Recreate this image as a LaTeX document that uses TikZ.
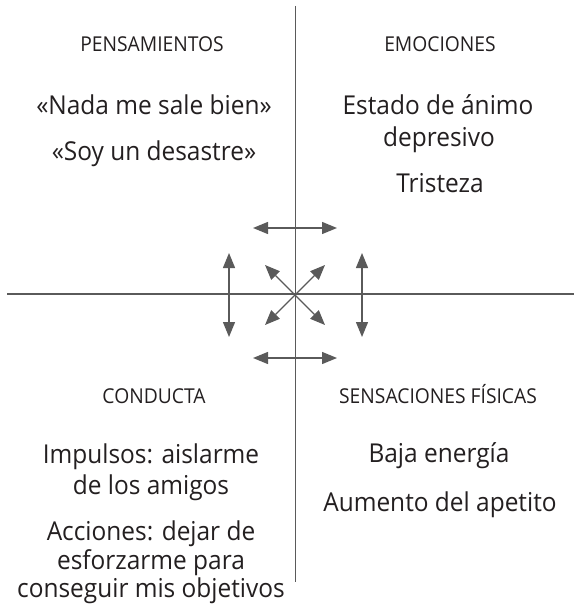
\documentclass[tikz,border=0pt]{standalone}
\usepackage{fontspec}
\setmainfont{Open Sans}[FakeStretch=0.94]
\usetikzlibrary{arrows.meta}
\definecolor{axisgray}{HTML}{5A5A5A}
\definecolor{txt}{HTML}{231F20}
\tikzset{
  axis/.style={draw=axisgray, line width=1.2pt},
  dbl/.style={draw=axisgray, line width=1.3pt, {Triangle[length=15pt,width=12pt]}-{Triangle[length=15pt,width=12pt]}},
  head/.style={anchor=base, text=txt, font=\fontsize{20.5}{24}\selectfont},
  body/.style={anchor=base, text=txt, font=\fontsize{26}{31}\selectfont},
}
\begin{document}
\begin{tikzpicture}[x=1pt,y=-1pt]
\useasboundingbox (0,0) rectangle (574,609);
% axes
\coordinate (vt) at (295.5,6);
\coordinate (vb) at (295.5,582);
\coordinate (hl) at (7,294);
\coordinate (hr) at (574,294);
\draw[axis] (vt) -- (vb);
\draw[axis] (hl) -- (hr);
% arrows
\coordinate (t1) at (253,228); \coordinate (t2) at (337,228);
\coordinate (b1) at (253,358); \coordinate (b2) at (337,358);
\coordinate (l1) at (229,253); \coordinate (l2) at (229,337);
\coordinate (r1) at (362,253); \coordinate (r2) at (362,337);
\coordinate (d1) at (265,265); \coordinate (d2) at (325,325);
\coordinate (d3) at (325,265); \coordinate (d4) at (265,325);
\draw[dbl] (t1) -- (t2);
\draw[dbl] (b1) -- (b2);
\draw[dbl] (l1) -- (l2);
\draw[dbl] (r1) -- (r2);
\draw[dbl] (d1) -- (d2);
\draw[dbl] (d3) -- (d4);
% texts
\node[head] (pens) at (152,52) {PENSAMIENTOS};
\node[head] (emoc) at (440,52) {EMOCIONES};
\node[body] (p1) at (154,115) {«Nada me sale bien»};
\node[body] (p2) at (154,161) {«Soy un desastre»};
\node[body] (e1) at (438,115) {Estado de ánimo};
\node[body] (e2) at (439,147) {depresivo};
\node[body] (e3) at (440,193) {Tristeza};
\node[head] (cond) at (154,403) {CONDUCTA};
\node[head] (sens) at (438,403) {SENSACIONES FÍSICAS};
\node[body] (c1) at (151,463) {Impulsos: aislarme};
\node[body] (c2) at (151,494) {de los amigos};
\node[body] (c3) at (151,540) {Acciones: dejar de};
\node[body] (c4) at (151,569) {esforzarme para};
\node[body] (c5) at (151,597) {conseguir mis objetivos};
\node[body] (s1) at (439,462) {Baja energía};
\node[body] (s2) at (440,511) {Aumento del apetito};
\end{tikzpicture}
\end{document}
